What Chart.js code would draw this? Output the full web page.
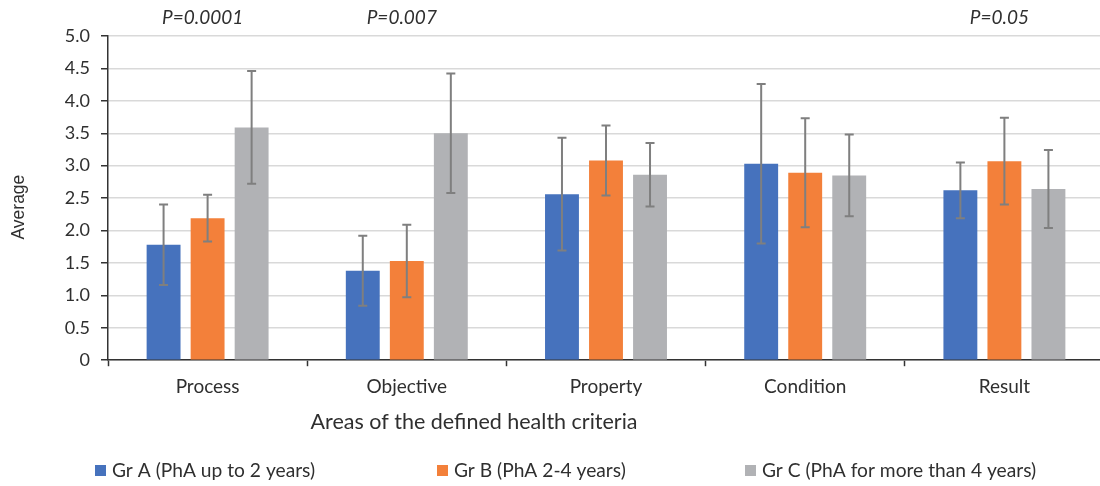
<!DOCTYPE html>
<html><head><meta charset="utf-8">
<script src="https://cdn.jsdelivr.net/npm/chart.js@4.4.1/dist/chart.umd.min.js"></script>
<style>html,body{margin:0;padding:0;background:#fff;overflow:hidden;}
#wrap{position:relative;width:1104px;height:486px;}
</style></head><body>
<div id="wrap"><canvas id="c" width="1104" height="486"></canvas></div>
<script>
const categories = ["Process", "Objective", "Property", "Condition", "Result"];
const seriesNames = ["Gr A (PhA up to 2 years)", "Gr B (PhA 2-4 years)", "Gr C (PhA for more than 4 years)"];
const grA = [1.78, 1.38, 2.56, 3.03, 2.62];
const grB = [2.19, 1.53, 3.08, 2.89, 3.07];
const grC = [3.59, 3.50, 2.86, 2.85, 2.64];
const sdA = [0.62, 0.54, 0.87, 1.23, 0.43];
const sdB = [0.36, 0.56, 0.54, 0.84, 0.67];
const sdC = [0.87, 0.92, 0.49, 0.63, 0.60];
const pValues = ["P=0.0001", "P=0.007", "", "", "P=0.05"];
const yTickLabels = ["0", "0.5", "1.0", "1.5", "2.0", "2.5", "3.0", "3.5", "4.0", "4.5", "5.0"];
const xTitle = "Areas of the defined health criteria";
const yTitle = "Average";

const colors = ["#4672BD", "#F3803A", "#B1B2B5"];
const sds = [sdA, sdB, sdC];
const FONT = "Lato, 'Open Sans', sans-serif";
const TXT = "#2f2f2f";

const extras = {
  id: 'extras',
  afterDatasetsDraw(chart) {
    const ctx = chart.ctx, ys = chart.scales.y;
    ctx.save();
    ctx.strokeStyle = '#7f7f7f';
    ctx.lineWidth = 2;
    sds.forEach((sd, di) => {
      const meta = chart.getDatasetMeta(di);
      meta.data.forEach((bar, i) => {
        const m = chart.data.datasets[di].data[i];
        const x = bar.x;
        const t = ys.getPixelForValue(m + sd[i]);
        const b = ys.getPixelForValue(m - sd[i]);
        ctx.beginPath();
        ctx.moveTo(x, t); ctx.lineTo(x, b);
        ctx.moveTo(x - 4.5, t); ctx.lineTo(x + 4.5, t);
        ctx.moveTo(x - 4.5, b); ctx.lineTo(x + 4.5, b);
        ctx.stroke();
      });
    });
    ctx.restore();
  },
  afterDraw(chart) {
    const ctx = chart.ctx, xs = chart.scales.x, ys = chart.scales.y;
    ctx.save();
    ctx.fillStyle = TXT;
    ctx.textBaseline = 'middle';
    // p-values
    ctx.font = "italic 19px " + FONT;
    ctx.textAlign = 'center';
    pValues.forEach((p, i) => {
      if (p) ctx.fillText(p, xs.getPixelForValue(i) - 5, 18);
    });
    // x title
    ctx.font = "21.5px " + FONT;
    ctx.fillText(xTitle, 474, 422);
    // y title
    ctx.save();
    ctx.translate(19, (ys.top + ys.bottom) / 2 + 9);
    ctx.rotate(-Math.PI / 2);
    ctx.font = "17.5px 'Liberation Sans', Arial, sans-serif";
    ctx.fillText(yTitle, 0, 0);
    ctx.restore();
    // legend
    ctx.font = "19.2px " + FONT;
    ctx.textAlign = 'left';
    const legendX = [95, 437, 745];
    seriesNames.forEach((n, i) => {
      ctx.fillStyle = colors[i];
      ctx.fillRect(legendX[i], 465, 11, 11);
      ctx.fillStyle = TXT;
      ctx.fillText(n, legendX[i] + 17, 470.5);
    });
    ctx.restore();
  }
};

new Chart(document.getElementById('c'), {
  type: 'bar',
  data: {
    labels: categories,
    datasets: [
      { label: seriesNames[0], data: grA, backgroundColor: colors[0] },
      { label: seriesNames[1], data: grB, backgroundColor: colors[1] },
      { label: seriesNames[2], data: grC, backgroundColor: colors[2] }
    ]
  },
  options: {
    responsive: false,
    animation: false,
    layout: { padding: { top: 36, left: 0, right: 0, bottom: 79 } },
    datasets: { bar: { categoryPercentage: 0.663, barPercentage: 0.77 } },
    plugins: { legend: { display: false }, tooltip: { enabled: false } },
    scales: {
      x: {
        grid: { drawOnChartArea: false, drawTicks: true, tickLength: 6, tickColor: '#333', tickWidth: 1.5, offset: true },
        border: { color: '#333', width: 1.5 },
        ticks: { color: TXT, font: { family: FONT, size: 19 }, padding: 9 }
      },
      y: {
        min: 0, max: 5,
        afterFit(scale) { scale.width = 108; },
        grid: { color: '#d9d9d9', lineWidth: 1.5, drawTicks: true, tickLength: 7, tickColor: '#333', tickWidth: 1.5 },
        border: { color: '#333', width: 1.5 },
        ticks: {
          stepSize: 0.5, color: TXT, font: { family: FONT, size: 18 }, padding: 11,
          callback: (v, i) => yTickLabels[i]
        }
      }
    }
  },
  plugins: [extras]
});
</script>
</body></html>
